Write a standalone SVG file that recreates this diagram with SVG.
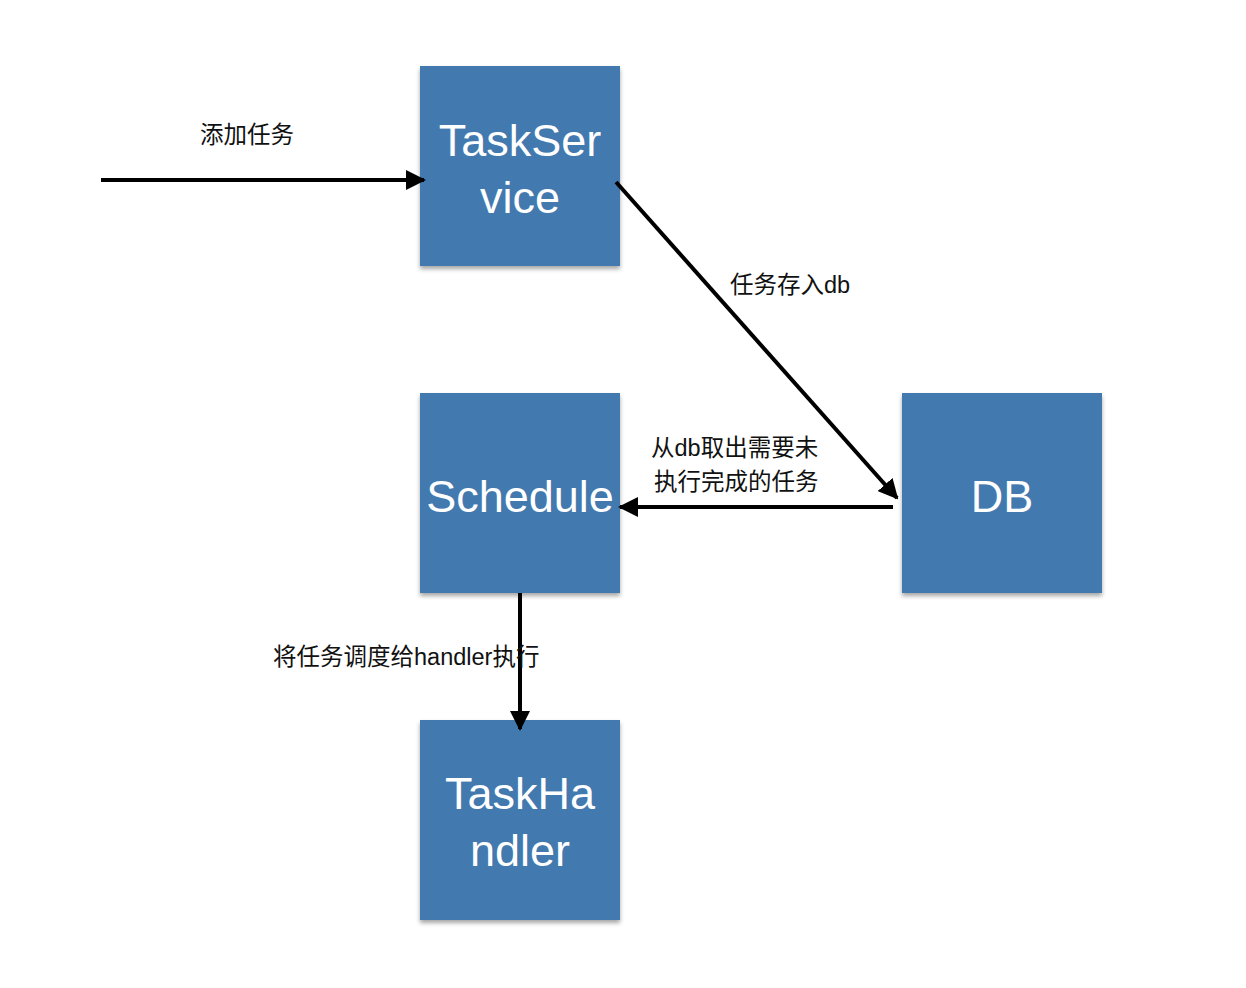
<svg xmlns="http://www.w3.org/2000/svg" width="1246" height="988" viewBox="0 0 1246 988">
<defs>
<filter id="sh" x="-10%" y="-10%" width="120%" height="125%">
<feDropShadow dx="0" dy="3" stdDeviation="2" flood-color="#000" flood-opacity="0.35"/>
</filter>
<marker id="ah" viewBox="0 0 10 10" refX="9" refY="5" markerWidth="5" markerHeight="5" markerUnits="strokeWidth" orient="auto">
<path d="M0,0 L10,5 L0,10 z" fill="#000"/>
</marker>
<style>
.box{fill:#4279af;filter:url(#sh)}
.nt{font-family:"Liberation Sans","Noto Sans",sans-serif;font-size:45px;fill:#fff;text-anchor:middle}
.lb{font-family:"Liberation Sans","Noto Sans CJK SC",sans-serif;font-size:23.5px;fill:#111}
.cn{stroke:#000;stroke-width:4;fill:none;marker-end:url(#ah)}
</style>
</defs>
<rect width="1246" height="988" fill="#fff"/>
<g id="taskservice">
<rect class="box" x="420" y="66" width="200" height="200"/>
<text class="nt" x="520" y="156">TaskSer</text>
<text class="nt" x="520" y="213">vice</text>
</g>
<g id="schedule">
<rect class="box" x="420" y="393" width="200" height="200"/>
<text class="nt" x="520" y="512">Schedule</text>
</g>
<g id="db">
<rect class="box" x="902" y="393" width="200" height="200"/>
<text class="nt" x="1002" y="512">DB</text>
</g>
<g id="taskhandler">
<rect class="box" x="420" y="720" width="200" height="200"/>
<text class="nt" x="520" y="809">TaskHa</text>
<text class="nt" x="520" y="866">ndler</text>
</g>
<g id="connectors">
<line class="cn" x1="101" y1="180" x2="424" y2="180"/>
<line class="cn" x1="616" y1="182" x2="897" y2="498"/>
<line class="cn" x1="893" y1="507" x2="620" y2="507"/>
<line class="cn" x1="520" y1="593" x2="520" y2="729"/>
</g>
<g id="labels">
<text class="lb" x="200" y="143">添加任务</text>
<text class="lb" x="730" y="293">任务存入db</text>
<text class="lb" x="651" y="456">从db取出需要未</text>
<text class="lb" x="654" y="490">执行完成的任务</text>
<text class="lb" x="273" y="665">将任务调度给handler执行</text>
</g>
</svg>
